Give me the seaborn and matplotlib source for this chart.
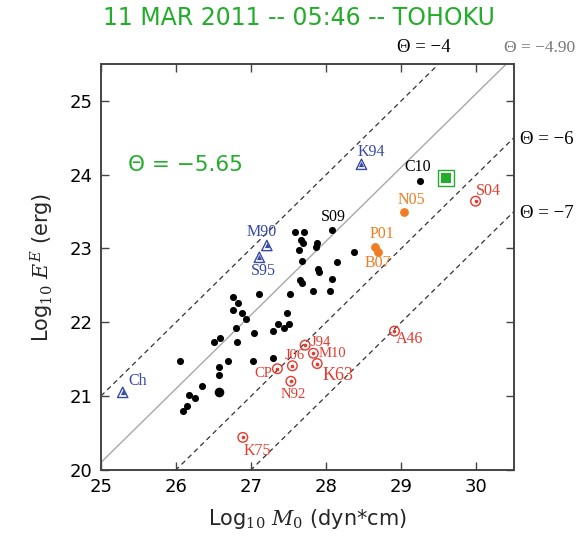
import numpy as np
import pandas as pd
import matplotlib
matplotlib.use("Agg")
import matplotlib.pyplot as plt
import seaborn as sns

# ---------------- data ----------------
black_x = [27.59, 27.71, 28.08, 27.67, 27.69, 27.88, 27.87, 27.64, 28.37, 27.68,
           28.15, 27.89, 27.91, 28.08, 27.65, 27.68, 27.83, 28.05, 27.52, 27.11,
           26.76, 26.83, 26.76, 26.88, 26.93, 27.48, 27.51, 27.36, 27.44, 27.04,
           27.29, 26.80, 26.59, 26.51, 26.81, 26.05, 26.69, 27.03, 27.29, 26.57,
           26.57, 26.35, 26.17, 26.25, 26.15, 26.09, 29.25]
black_y = [23.22, 23.22, 23.25, 23.11, 23.07, 23.08, 23.02, 22.98, 22.95, 22.83,
           22.81, 22.72, 22.68, 22.58, 22.57, 22.53, 22.43, 22.42, 22.38, 22.38,
           22.34, 22.26, 22.17, 22.12, 22.05, 22.12, 21.98, 21.98, 21.92, 21.86,
           21.88, 21.92, 21.79, 21.73, 21.73, 21.47, 21.47, 21.47, 21.51, 21.40,
           21.29, 21.14, 21.01, 20.97, 20.87, 20.80, 23.91]
big_black_x = [26.57]
big_black_y = [21.05]
black_labels = {"S09": (28.08, 23.25), "C10": (29.25, 23.91)}

orange_names = ["N05", "P01", "B07"]
orange_x = [29.04, 28.65, 28.69]
orange_y = [23.49, 23.02, 22.95]

red_names = ["S04", "A46", "J94", "M10", "J06", "K63", "CP", "N92", "K75"]
red_x = [29.99, 28.91, 27.72, 27.83, 27.55, 27.88, 27.35, 27.53, 26.89]
red_y = [23.64, 21.88, 21.69, 21.58, 21.41, 21.44, 21.37, 21.20, 20.44]

blue_names = ["K94", "M90", "S95", "Ch"]
blue_x = [28.47, 27.21, 27.11, 25.29]
blue_y = [24.14, 23.04, 22.88, 21.05]

tohoku_x = [29.59]
tohoku_y = [23.95]

theta_dashed = [-4, -6, -7]
theta_mean = -4.90
theta_event = -5.65

xticks = [25, 26, 27, 28, 29, 30]
yticks = [20, 21, 22, 23, 24, 25]
title = "11 MAR 2011 -- 05:46 -- TOHOKU"

# ---------------- style ----------------
GREEN = "#23ad2a"
RED = "#e53a2e"
ORANGE = "#f07d22"
BLUE = "#3848a8"
GRAY = "#a8a8a8"
AX = "#444444"

sns.set_style("ticks")
plt.rcParams["font.family"] = ["DejaVu Sans"]
plt.rcParams["mathtext.fontset"] = "dejavuserif"

fig = plt.figure(figsize=(5.8, 5.37), dpi=100)
ax = fig.add_axes([0.174, 0.125, 0.712, 0.756])

xlim = (25, 30.5)
ylim = (20, 25.5)
xs = np.array(xlim)

# reference lines
line_rows = []
for t in theta_dashed:
    for xv in xs:
        line_rows.append({"x": xv, "y": xv + t, "theta": str(t)})
ldf = pd.DataFrame(line_rows)
for t in theta_dashed:
    sub = ldf[ldf.theta == str(t)]
    sns.lineplot(data=sub, x="x", y="y", ax=ax, color="#333333", lw=0.9,
                 linestyle=(0, (4, 3)), sort=False)
mdf = pd.DataFrame({"x": xs, "y": xs + theta_mean})
sns.lineplot(data=mdf, x="x", y="y", ax=ax, color=GRAY, lw=1.0, sort=False)

# black points
sns.scatterplot(x=black_x, y=black_y, ax=ax, color="black", s=26, linewidth=0, zorder=4)
sns.scatterplot(x=big_black_x, y=big_black_y, ax=ax, color="black", s=48, linewidth=0, zorder=4)

# orange
sns.scatterplot(x=orange_x, y=orange_y, ax=ax, color=ORANGE, s=40, linewidth=0, zorder=4)

# red circled dots
sns.scatterplot(x=red_x, y=red_y, ax=ax, marker="o", s=48, facecolor="none",
                edgecolor=RED, linewidth=1.0, zorder=4)
sns.scatterplot(x=red_x, y=red_y, ax=ax, marker="o", s=7, color=RED, linewidth=0, zorder=5)

# blue triangles
sns.scatterplot(x=blue_x, y=blue_y, ax=ax, marker="^", s=55, facecolor="none",
                edgecolor=BLUE, linewidth=1.0, zorder=4)
sns.scatterplot(x=blue_x, y=blue_y, ax=ax, marker="^", s=14, color=BLUE, linewidth=0, zorder=5)

# tohoku square
sns.scatterplot(x=tohoku_x, y=tohoku_y, ax=ax, marker="s", s=130, facecolor="white",
                edgecolor=GREEN, linewidth=1.0, zorder=4)
sns.scatterplot(x=tohoku_x, y=tohoku_y, ax=ax, marker="s", s=55, color=GREEN, linewidth=0, zorder=5)

# labels
serif = ["Liberation Serif", "DejaVu Serif"]
lfs = 11.5
def lab(txt, x, y, dx, dy, color, ha="center", va="center", fs=lfs):
    ax.annotate(txt, (x, y), xytext=(dx, dy), textcoords="offset points",
                ha=ha, va=va, color=color, fontsize=fs, family=serif)

lab("S09", *black_labels["S09"], 1, 9.5, "black")
lab("C10", *black_labels["C10"], -2, 10, "black")

lab("N05", orange_x[0], orange_y[0], 5, 9, ORANGE)
lab("P01", orange_x[1], orange_y[1], 5, 9, ORANGE)
lab("B07", orange_x[2], orange_y[2], 0, -8, ORANGE)

red_off = {"S04": (9, 7.5, "center"), "A46": (11, -6, "center"), "J94": (4, 2, "left"),
           "M10": (4, 0, "left"), "J06": (2, 7.5, "center"), "K63": (15, -8.5, "center"),
           "CP": (-10, -3.5, "center"), "N92": (2, -9.5, "center"), "K75": (10.5, -9.5, "center")}
for n, x, y in zip(red_names, red_x, red_y):
    dx, dy, ha = red_off[n]
    fs = 13 if n == "K63" else (10.5 if n in ("J94", "M10", "J06", "CP", "N92") else lfs)
    lab(n, x, y, dx, dy, RED, ha=ha, fs=fs)

blue_off = {"K94": (7, 8.5, "center"), "M90": (-4, 9.5, "center"), "S95": (3, -10, "center"),
            "Ch": (4, 8, "left")}
for n, x, y in zip(blue_names, blue_x, blue_y):
    dx, dy, ha = blue_off[n]
    lab(n, x, y, dx, dy, BLUE, ha=ha)

# theta annotations
ax.text(0.065, 0.75, "Θ = −5.65", transform=ax.transAxes, color=GREEN, fontsize=15.5,
        ha="left", va="center")
fig.text(424 / 580, 1 - 47 / 537, "Θ = −4", color="black", fontsize=13.5, family=serif,
         ha="center", va="center")
fig.text(540 / 580, 1 - 48 / 537, "Θ = −4.90", color="#777777", fontsize=12.5, family=serif,
         ha="center", va="center")
fig.text(547 / 580, 1 - 140 / 537, "Θ = −6", color="black", fontsize=13.5, family=serif,
         ha="center", va="center")
fig.text(547 / 580, 1 - 214 / 537, "Θ = −7", color="black", fontsize=13.5, family=serif,
         ha="center", va="center")

fig.text(299 / 580, 1 - 18 / 537, title, color=GREEN, fontsize=17, ha="center", va="center")

# axes
ax.set_xlim(*xlim)
ax.set_ylim(*ylim)
ax.set_xticks(xticks)
ax.set_yticks(yticks)
ax.set_xticklabels([str(v) for v in xticks], fontsize=13)
ax.set_yticklabels([str(v) for v in yticks], fontsize=13)
ax.tick_params(direction="in", length=6, width=1.0, color=AX, top=True, right=True,
               pad=6, labelcolor="black")
for sp in ax.spines.values():
    sp.set_visible(True)
    sp.set_color(AX)
    sp.set_linewidth(1.4)
ax.set_xlabel(r"Log$_{10}$ $M_0$ (dyn*cm)", fontsize=15, labelpad=8)
ax.set_ylabel(r"Log$_{10}$ $E^E$ (erg)", fontsize=15, labelpad=10)

fig.savefig("out.png", dpi=100)
